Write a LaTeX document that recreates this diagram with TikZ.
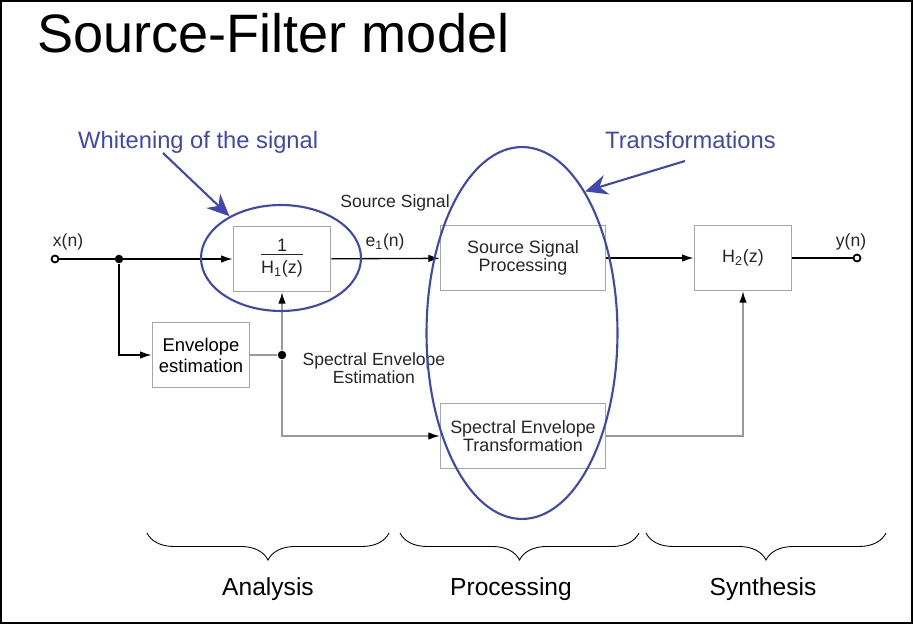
\documentclass[tikz,border=0pt]{standalone}
\usepackage{fontspec}
\setmainfont{Liberation Sans}
\usetikzlibrary{arrows.meta,shapes.geometric,decorations.pathreplacing}
\definecolor{annot}{RGB}{64,72,176}

\begin{document}
\begin{tikzpicture}[x=0.02cm,y=-0.02cm,
  blk/.style={draw=black!35,line width=0.8pt,minimum width=1.95cm,minimum height=1.3cm,inner sep=1pt,align=center,font=\fontsize{10.2}{10.5}\selectfont,text=black!85},
  sig/.style={line width=0.75pt,-{Latex[length=2.3mm,width=1.5mm]}},
  gsig/.style={line width=0.75pt,draw=black!40,-{Latex[length=2.3mm,width=1.5mm,color=black]}},
  gline/.style={line width=0.75pt,draw=black!40},
  dot/.style={circle,fill=black,inner sep=0pt,minimum size=0.17cm},
  term/.style={circle,draw,line width=1pt,fill=white,inner sep=0pt,minimum size=0.14cm},
  lbl/.style={font=\fontsize{10}{10.5}\selectfont,text=black!85,align=center},
  ring/.style={ellipse,draw=annot,line width=1.2pt,inner sep=0pt},
  callout/.style={draw=annot,line width=1.2pt,-{Stealth[length=4.5mm,width=4mm,inset=1.5mm]}},
  note/.style={text=annot,font=\fontsize{13.5}{15}\selectfont},
  grp/.style={decorate,decoration={brace,mirror,amplitude=0.54cm,aspect=0.5},line width=0.5pt},
  part/.style={font=\fontsize{14}{16}\selectfont}]
\useasboundingbox (0,0) rectangle (913,624);
\draw[line width=1.2pt] (1.1,1.1) rectangle (911.9,622.9);
\node[anchor=base west,font=\fontsize{30.8}{32}\selectfont] (title) at (31,53) {Source-Filter model};

% blocks
\node[blk] (h1) at (282,259) {\begin{tabular}{@{}c@{}}1\\[-2pt]\hline\rule{0pt}{11pt}H\textsubscript{1}(z)\end{tabular}};
\node[blk,text=black,font=\fontsize{10.5}{12}\selectfont] (env) at (201,355) {Envelope\\estimation};
\node[blk,minimum width=3.3cm] (ssp) at (523,258) {Source Signal\\Processing};
\node[blk,minimum width=3.3cm] (set) at (523,436) {Spectral Envelope\\Transformation};
\node[blk] (h2) at (743,258) {H\textsubscript{2}(z)};

\node[term] (xin) at (55,259) {};
\node[term] (yout) at (857,258) {};
\node[dot] (fork) at (119,259) {};
\node[dot] (tap) at (282,355) {};

% signal labels
\node[lbl,anchor=base] (xlab) at (68,247) {x(n)};
\node[lbl,anchor=base] (elab) at (385,247) {e\textsubscript{1}(n)};
\node[lbl,anchor=base] (srclab) at (395,208) {Source Signal};
\node[lbl,anchor=base] (ylab) at (851,247) {y(n)};
\node[lbl] (seelab) at (374,368) {Spectral Envelope\\Estimation};

% connectors
\draw[sig] (xin) -- (h1);
\draw[sig] (fork) |- (env);
\draw[gline] (env) -- (tap);
\draw[gsig] (tap) -- (h1);
\draw[gsig] (tap) |- (set);
\draw[sig] (h1) -- (ssp);
\draw[sig] (ssp) -- (h2);
\draw[line width=0.75pt] (h2) -- (yout);
\draw[gsig] (set) -| (h2);

% annotations
\node[ring,minimum width=3.2cm,minimum height=2.12cm] (ring1) at (281,258) {};
\node[ring,minimum width=3.82cm,minimum height=7.44cm] (ring2) at (522,333) {};
\node[note,anchor=base west] (whiten) at (72,149) {Whitening of the signal};
\node[note,anchor=base west] (trans) at (599,149) {Transformations};
\coordinate (wfrom) at (163,153);
\coordinate (tfrom) at (685,161);
\draw[callout] (wfrom) -- (ring1.141);
\draw[callout] (tfrom) -- (ring2.66);

% stages
\draw[grp] (147,533) -- (389,533);
\draw[grp] (400,533) -- (639,533);
\draw[grp] (646,533) -- (886,533);
\node[part,anchor=base] (ana) at (268,596) {Analysis};
\node[part,anchor=base] (proc) at (511,596) {Processing};
\node[part,anchor=base] (syn) at (763,596) {Synthesis};
\end{tikzpicture}
\end{document}
